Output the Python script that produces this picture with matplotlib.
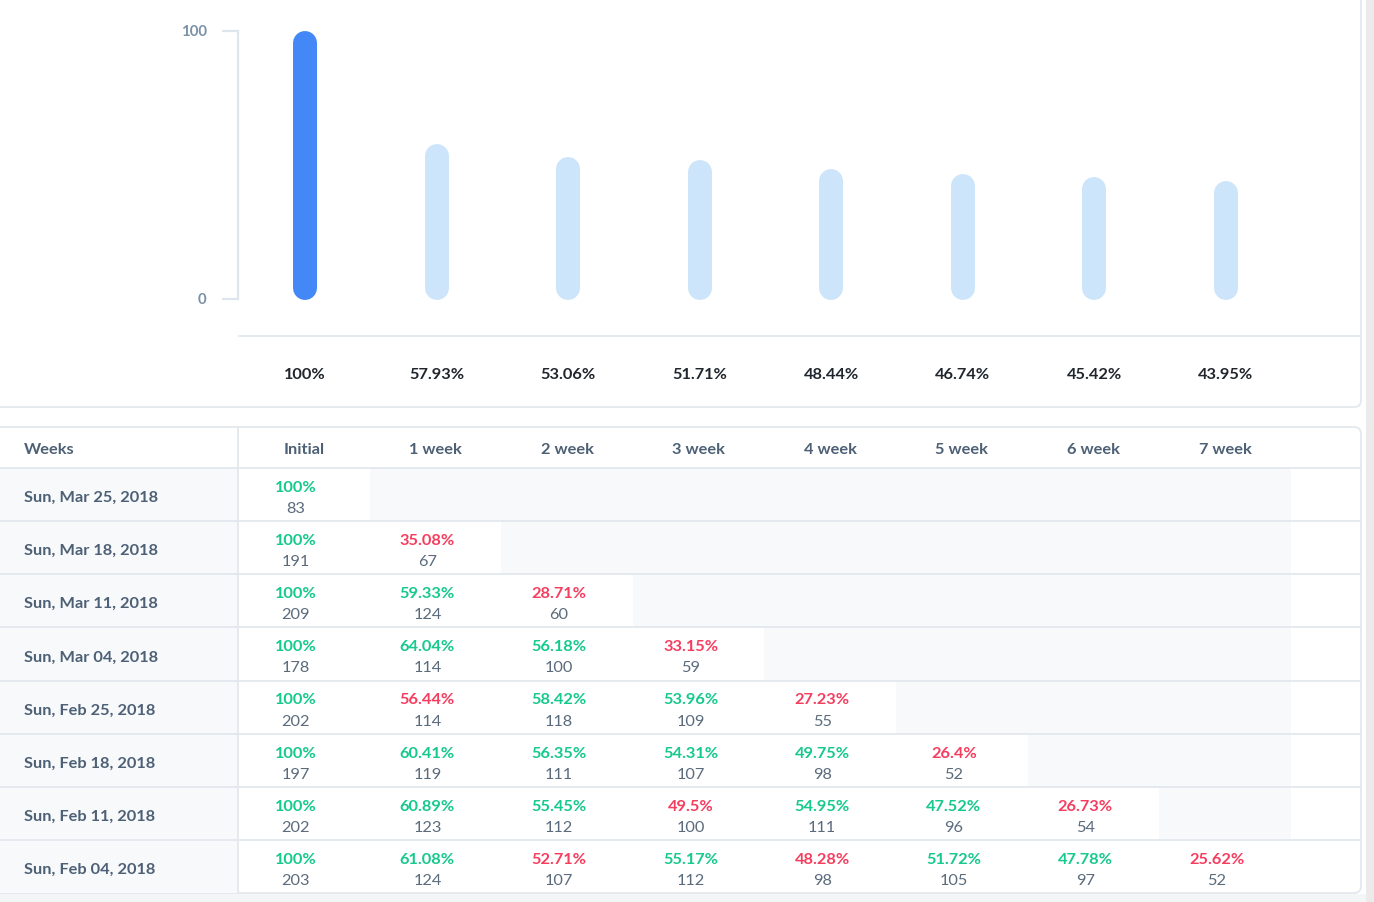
import matplotlib
matplotlib.use("Agg")
import matplotlib.pyplot as plt
from matplotlib.patches import FancyBboxPatch, Rectangle

# ---------------- data ----------------
period_labels = ["Initial", "1 week", "2 week", "3 week", "4 week", "5 week", "6 week", "7 week"]
overall_retention = [100, 57.93, 53.06, 51.71, 48.44, 46.74, 45.42, 43.95]
axis_ticks = [0, 100]

cohort_dates = ["Sun, Mar 25, 2018", "Sun, Mar 18, 2018", "Sun, Mar 11, 2018", "Sun, Mar 04, 2018",
                "Sun, Feb 25, 2018", "Sun, Feb 18, 2018", "Sun, Feb 11, 2018", "Sun, Feb 04, 2018"]
cohort_pct = [
    [100],
    [100, 35.08],
    [100, 59.33, 28.71],
    [100, 64.04, 56.18, 33.15],
    [100, 56.44, 58.42, 53.96, 27.23],
    [100, 60.41, 56.35, 54.31, 49.75, 26.4],
    [100, 60.89, 55.45, 49.5, 54.95, 47.52, 26.73],
    [100, 61.08, 52.71, 55.17, 48.28, 51.72, 47.78, 25.62],
]
cohort_counts = [
    [83],
    [191, 67],
    [209, 124, 60],
    [178, 114, 100, 59],
    [202, 114, 118, 109, 55],
    [197, 119, 111, 107, 98, 52],
    [202, 123, 112, 100, 111, 96, 54],
    [203, 124, 107, 112, 98, 105, 97, 52],
]

# ---------------- style ----------------
FONT = ["Lato", "DejaVu Sans"]
plt.rcParams["font.family"] = FONT
W, H = 1374, 902
DARK_BAR = "#4388f6"
LIGHT_BAR = "#cde5fa"
LINE = "#e3e8ee"
CELL_GRAY = "#f7f9fb"
GREEN = "#16c98c"
RED = "#f53e5f"
SLATE = "#4d6075"
COUNT = "#5b6b7c"
LABEL_DARK = "#20262e"
TICK = "#7b91a7"
FS = 11.8
WT = "bold"


def fr(left, top, right, bottom):
    return [left / W, 1 - bottom / H, (right - left) / W, (bottom - top) / H]


fig = plt.figure(figsize=(W / 100, H / 100), dpi=100)
fig.patch.set_facecolor("white")

# background / cards
bg = fig.add_axes([0, 0, 1, 1])
bg.set_xlim(0, W)
bg.set_ylim(H, 0)
bg.axis("off")
bg.add_patch(Rectangle((1366, 0), 8, H, facecolor="#ebebeb", edgecolor="none"))
bg.add_patch(Rectangle((0, 894), 1366, 8, facecolor="#f4f5f7", edgecolor="none"))
for (y0, y1) in [(-20, 407), (427, 893)]:
    bg.add_patch(FancyBboxPatch((-20, y0), 1381, y1 - y0,
                                boxstyle="round,pad=0,rounding_size=7",
                                facecolor="white", edgecolor=LINE, linewidth=1.3))

# ---------------- bar chart ----------------
px_per_unit = 2.68
zero_px = 299
ax = fig.add_axes(fr(238, 0, 1361, 407))
ax.set_xlim(-0.51, 8.03)
ax.set_ylim((zero_px - 407) / px_per_unit, zero_px / px_per_unit)
ax.patch.set_alpha(0)
for s in ["top", "right", "bottom"]:
    ax.spines[s].set_visible(False)
ax.spines["left"].set_bounds(0, 100)
ax.spines["left"].set_color("#dfe5ec")
ax.spines["left"].set_linewidth(1.6)
ax.set_xticks([])
ax.set_yticks(axis_ticks)
ax.tick_params(axis="y", length=11.5, width=1.6, color="#dfe5ec", pad=11,
               labelcolor=TICK, labelsize=10.8)
ax.set_yticklabels([str(t) for t in axis_ticks], fontweight="bold", fontsize=10.8, color=TICK)

cap = 12 / px_per_unit
for i, v in enumerate(overall_retention):
    ax.plot([i, i], [cap - 1 / px_per_unit, v - cap], color=DARK_BAR if i == 0 else LIGHT_BAR,
            linewidth=24 * 0.72, solid_capstyle="round")
    ax.text(i, (zero_px - 375) / px_per_unit, f"{v:g}%", ha="center", va="center",
            fontsize=FS, fontweight=WT, color=LABEL_DARK)
ax.axhline((zero_px - 336) / px_per_unit, color=LINE, linewidth=1.3)

# ---------------- table ----------------
col_w = 131.6
row_h = 53.125
tb = fig.add_axes(fr(0, 427, 1361, 893))
x_left = -238 / col_w
tb.set_xlim(x_left, (1361 - 238) / col_w)
head = -41 / row_h
tb.set_ylim(len(cohort_dates), head)
tb.axis("off")
tb.patch.set_alpha(0)

n_rows = len(cohort_dates)
n_cols = len(period_labels)
# gray backgrounds
tb.add_patch(Rectangle((x_left, 0), -x_left, n_rows, facecolor=CELL_GRAY, edgecolor="none"))
for r in range(n_rows):
    filled = len(cohort_pct[r])
    if filled < n_cols:
        tb.add_patch(Rectangle((filled, r), n_cols - filled, 1, facecolor=CELL_GRAY, edgecolor="none"))

# grid lines
tb.hlines(range(0, n_rows), x_left, (1361 - 238) / col_w, color=LINE, linewidth=1.3)
tb.vlines(0, head, n_rows, color=LINE, linewidth=1.3)

dy = 2 / row_h
# header
tb.text(x_left + 24 / col_w, head + 21 / row_h + dy, "Weeks", ha="left", va="center",
        fontsize=FS, fontweight=WT, color=SLATE)
for c, lab in enumerate(period_labels):
    tb.text(c + 0.5, head + 21 / row_h + dy, lab, ha="center", va="center",
            fontsize=FS, fontweight=WT, color=SLATE)

# rows
for r, date in enumerate(cohort_dates):
    tb.text(x_left + 24 / col_w, r + 28 / row_h + dy, date, ha="left", va="center",
            fontsize=FS, fontweight=WT, color=SLATE)
    for c, (p, n) in enumerate(zip(cohort_pct[r], cohort_counts[r])):
        col = GREEN if p >= overall_retention[c] else RED
        cx = c + 0.5 - 8 / col_w
        tb.text(cx, r + 18 / row_h + dy, f"{p:g}%", ha="center", va="center",
                fontsize=FS, fontweight=WT, color=col)
        tb.text(cx, r + 39 / row_h + dy, f"{n}", ha="center", va="center",
                fontsize=FS, color=COUNT)

fig.savefig("out.png", dpi=100)
